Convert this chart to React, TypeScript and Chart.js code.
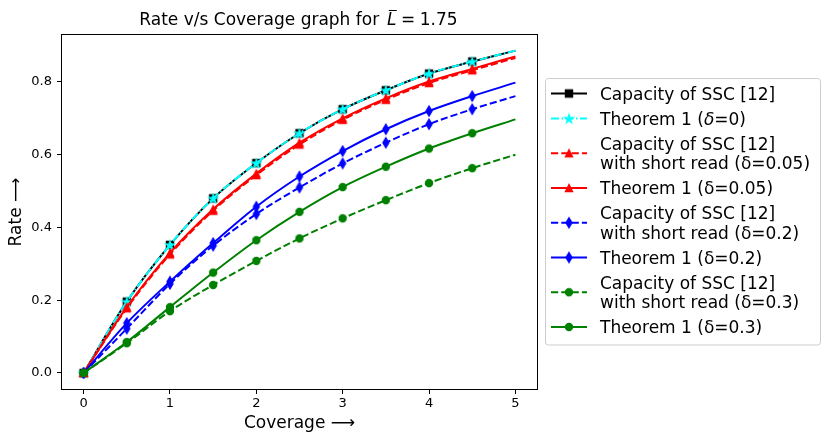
import React, { useEffect, useRef } from "react";
import { Chart, registerables } from "chart.js";

Chart.register(...registerables);

const FONT = "'DejaVu Sans', sans-serif";

// ---- data ----
const coverage = [0, 0.5, 1, 1.5, 2, 2.5, 3, 3.5, 4, 4.5, 5];
const capacitySSC = [0, 0.196, 0.352, 0.48, 0.577, 0.659, 0.725, 0.777, 0.823, 0.856, 0.886];
const theorem1d0 = [0, 0.196, 0.352, 0.48, 0.577, 0.659, 0.725, 0.777, 0.823, 0.856, 0.886];
const capShort005 = [0, 0.178, 0.326, 0.446, 0.544, 0.628, 0.696, 0.751, 0.797, 0.832, 0.866];
const theorem1d005 = [0, 0.181, 0.33, 0.45, 0.548, 0.633, 0.7, 0.755, 0.801, 0.836, 0.87];
const capShort02 = [0, 0.122, 0.245, 0.35, 0.437, 0.51, 0.576, 0.633, 0.684, 0.725, 0.761];
const theorem1d02 = [0, 0.137, 0.251, 0.357, 0.457, 0.54, 0.61, 0.67, 0.72, 0.761, 0.798];
const capShort03 = [0, 0.082, 0.17, 0.242, 0.308, 0.37, 0.425, 0.475, 0.522, 0.563, 0.6];
const theorem1d03 = [0, 0.085, 0.181, 0.276, 0.365, 0.443, 0.511, 0.567, 0.617, 0.659, 0.697];

const xTicks = [0, 1, 2, 3, 4, 5];
const yTicks = [0, 0.2, 0.4, 0.6, 0.8];

const titleMain = "Rate v/s Coverage graph for ";
const titleVar = "L";
const titleRest = ["=", "1.75"];
const xTitle = "Coverage ⟶";
const yTitle = "Rate ⟶";

const seriesLabels: string[][] = [
  ["Capacity of SSC [12]"],
  ["Theorem 1 (δ=0)"],
  ["Capacity of SSC [12]", "with short read (δ=0.05)"],
  ["Theorem 1 (δ=0.05)"],
  ["Capacity of SSC [12]", "with short read (δ=0.2)"],
  ["Theorem 1 (δ=0.2)"],
  ["Capacity of SSC [12]", "with short read (δ=0.3)"],
  ["Theorem 1 (δ=0.3)"],
];
const italicDelta = [false, true, false, false, false, false, false, false];
const seriesValues = [
  capacitySSC, theorem1d0, capShort005, theorem1d005,
  capShort02, theorem1d02, capShort03, theorem1d03,
];
const seriesColors = ["#000000", "#00ffff", "#ff0000", "#ff0000", "#0000ff", "#0000ff", "#008000", "#008000"];
const seriesStyles = ["solid", "dashdot", "dashed", "solid", "dashed", "solid", "dashed", "solid"];
const seriesMarkers = ["square", "star", "triangle", "triangle", "thinDiamond", "thinDiamond", "circle", "circle"];

const DASHES: Record<string, number[]> = {
  solid: [],
  dashed: [7.2, 3.1],
  dashdot: [8, 2.5, 1.5, 2.5],
};

function makeMarker(kind: string, color: string): HTMLCanvasElement {
  const s = 20;
  const c = document.createElement("canvas");
  c.width = s;
  c.height = s;
  const g = c.getContext("2d")!;
  g.translate(s / 2, s / 2);
  const m = 7.1;
  g.fillStyle = color;
  g.strokeStyle = color;
  g.lineWidth = 1.3;
  g.lineJoin = "miter";
  g.beginPath();
  if (kind === "square") {
    g.rect(-m / 2, -m / 2, m, m);
  } else if (kind === "star") {
    const R = m * 0.62;
    const r = R * 0.381966;
    for (let i = 0; i < 10; i++) {
      const rad = i % 2 === 0 ? R : r;
      const a = -Math.PI / 2 + (i * Math.PI) / 5;
      const px = rad * Math.cos(a);
      const py = rad * Math.sin(a) + 0.5;
      if (i === 0) g.moveTo(px, py);
      else g.lineTo(px, py);
    }
    g.closePath();
  } else if (kind === "triangle") {
    g.moveTo(0, -m / 2);
    g.lineTo(-m / 2, m / 2);
    g.lineTo(m / 2, m / 2);
    g.closePath();
  } else if (kind === "thinDiamond") {
    const h = m * 0.7071;
    const w = h * 0.6;
    g.moveTo(0, -h);
    g.lineTo(w, 0);
    g.lineTo(0, h);
    g.lineTo(-w, 0);
    g.closePath();
  } else {
    g.arc(0, 0, m / 2, 0, Math.PI * 2);
  }
  g.fill();
  g.stroke();
  return c;
}

let markerImgs: HTMLCanvasElement[] = [];

const framePlugin = {
  id: "frameTitleLegend",
  afterDraw(chart: any) {
    const ctx: CanvasRenderingContext2D = chart.ctx;
    const a = chart.chartArea;
    ctx.save();
    // frame
    ctx.strokeStyle = "#000";
    ctx.lineWidth = 1;
    ctx.strokeRect(Math.round(a.left) - 0.5, Math.round(a.top) - 0.5, Math.round(a.right - a.left) + 1, Math.round(a.bottom - a.top) + 1);

    // title
    const normal = `17px ${FONT}`;
    const italic = `italic 17px ${FONT}`;
    ctx.fillStyle = "#000";
    ctx.textBaseline = "alphabetic";
    ctx.textAlign = "left";
    ctx.font = normal;
    const w1 = ctx.measureText(titleMain).width;
    ctx.font = italic;
    const wL = ctx.measureText(titleVar).width;
    ctx.font = normal;
    const wEq = ctx.measureText(titleRest[0]).width;
    const wNum = ctx.measureText(titleRest[1]).width;
    const gap1 = 2.5, gap2 = 4.5, gap3 = 4.5;
    const total = w1 + gap1 + wL + gap2 + wEq + gap3 + wNum;
    const cx = (a.left + a.right) / 2 - 1;
    let x = cx - total / 2;
    const by = 25;
    ctx.font = normal;
    ctx.fillText(titleMain, x, by);
    x += w1 + gap1;
    ctx.font = italic;
    ctx.fillText(titleVar, x, by);
    ctx.fillRect(x + 1.7, by - 15, 8, 1);
    x += wL + gap2;
    ctx.font = normal;
    ctx.fillText(titleRest[0], x, by);
    x += wEq + gap3;
    ctx.fillText(titleRest[1], x, by);

    // legend
    const bx = 545.5, byTop = 78.5, bw = 275, bh = 266.5;
    ctx.beginPath();
    const rr = 3;
    ctx.moveTo(bx + rr, byTop);
    ctx.lineTo(bx + bw - rr, byTop);
    ctx.quadraticCurveTo(bx + bw, byTop, bx + bw, byTop + rr);
    ctx.lineTo(bx + bw, byTop + bh - rr);
    ctx.quadraticCurveTo(bx + bw, byTop + bh, bx + bw - rr, byTop + bh);
    ctx.lineTo(bx + rr, byTop + bh);
    ctx.quadraticCurveTo(bx, byTop + bh, bx, byTop + bh - rr);
    ctx.lineTo(bx, byTop + rr);
    ctx.quadraticCurveTo(bx, byTop, bx + rr, byTop);
    ctx.closePath();
    ctx.fillStyle = "rgba(255,255,255,0.8)";
    ctx.fill();
    ctx.strokeStyle = "#cccccc";
    ctx.lineWidth = 1;
    ctx.stroke();

    let baseline = 99.5;
    const lineGap = 19.5;
    const entryGap = 25;
    const textX = 600;
    const hx0 = 551, hx1 = 587, hmx = 569;
    seriesLabels.forEach((lines, i) => {
      const first = baseline;
      const last = baseline + (lines.length - 1) * lineGap;
      const midY = (first + last) / 2 - 6;
      ctx.save();
      ctx.strokeStyle = seriesColors[i];
      ctx.lineWidth = 2;
      ctx.setLineDash(DASHES[seriesStyles[i]]);
      ctx.beginPath();
      ctx.moveTo(hx0, midY);
      ctx.lineTo(hx1, midY);
      ctx.stroke();
      ctx.restore();
      const img = markerImgs[i];
      if (img) ctx.drawImage(img, hmx - img.width / 2, midY - img.height / 2);
      ctx.fillStyle = "#000";
      lines.forEach((t, j) => {
        const y = first + j * lineGap;
        if (italicDelta[i] && t.includes("δ")) {
          const k = t.indexOf("δ");
          const pre = t.slice(0, k);
          const post = t.slice(k + 1);
          ctx.font = normal;
          let tx = textX;
          ctx.fillText(pre, tx, y);
          tx += ctx.measureText(pre).width;
          ctx.font = italic;
          ctx.fillText("δ", tx, y);
          tx += ctx.measureText("δ").width;
          ctx.font = normal;
          ctx.fillText(post, tx, y);
        } else {
          ctx.font = normal;
          ctx.fillText(t, textX, y);
        }
      });
      baseline = last + entryGap;
    });
    ctx.restore();
  },
};

export default function App() {
  const ref = useRef<HTMLCanvasElement>(null);
  useEffect(() => {
    if (!ref.current) return;
    markerImgs = seriesMarkers.map((m, i) => makeMarker(m, seriesColors[i]));
    Chart.defaults.font.family = FONT;
    const datasets = seriesValues.map((vals, i) => ({
      label: seriesLabels[i].join(" "),
      data: coverage.map((x, k) => ({ x, y: vals[k] })),
      borderColor: seriesColors[i],
      backgroundColor: seriesColors[i],
      borderWidth: 2,
      borderDash: DASHES[seriesStyles[i]],
      pointStyle: markerImgs[i],
      pointRadius: coverage.map((_, k) => (k === coverage.length - 1 ? 0 : 4)),
      pointHoverRadius: 0,
      cubicInterpolationMode: "monotone" as const,
      fill: false,
      order: seriesValues.length - i,
    }));
    const chart = new Chart(ref.current, {
      type: "line",
      data: { datasets },
      plugins: [framePlugin],
      options: {
        animation: false,
        responsive: false,
        events: [],
        layout: { padding: { top: 35, right: 293, left: 0, bottom: 0 } },
        plugins: { legend: { display: false }, tooltip: { enabled: false }, title: { display: false } },
        scales: {
          x: {
            type: "linear",
            min: -0.25,
            max: 5.25,
            afterBuildTicks: (s: any) => {
              s.ticks = xTicks.map((v) => ({ value: v }));
            },
            afterFit: (s: any) => {
              s.height = 54;
            },
            ticks: {
              callback: (v: any) => String(v),
              font: { size: 13, family: FONT },
              color: "#000",
              padding: 1.5,
              maxRotation: 0,
              autoSkip: false,
            },
            grid: { display: true, drawOnChartArea: false, drawTicks: true, tickLength: 5, color: "#000", tickColor: "#000", lineWidth: 1 },
            border: { display: false },
            title: { display: true, text: xTitle, color: "#000", font: { size: 17, family: FONT }, padding: { top: 0, bottom: 9.5 } },
          },
          y: {
            type: "linear",
            min: -0.044,
            max: 0.929,
            afterBuildTicks: (s: any) => {
              s.ticks = yTicks.map((v) => ({ value: v }));
            },
            afterFit: (s: any) => {
              s.width = 62;
            },
            ticks: {
              callback: (v: any) => Number(v).toFixed(1),
              font: { size: 13, family: FONT },
              color: "#000",
              padding: 5,
              autoSkip: false,
            },
            grid: { display: true, drawOnChartArea: false, drawTicks: true, tickLength: 5, color: "#000", tickColor: "#000", lineWidth: 1 },
            border: { display: false },
            title: { display: true, text: yTitle, color: "#000", font: { size: 17, family: FONT }, padding: { top: 6, bottom: 0 } },
          },
        },
      },
    });
    return () => chart.destroy();
  }, []);
  return (
    <div style={{ position: "absolute", left: 0, top: 0, width: 830, height: 443, background: "#fff" }}>
      <canvas ref={ref} width={830} height={443} style={{ display: "block" }} />
    </div>
  );
}
